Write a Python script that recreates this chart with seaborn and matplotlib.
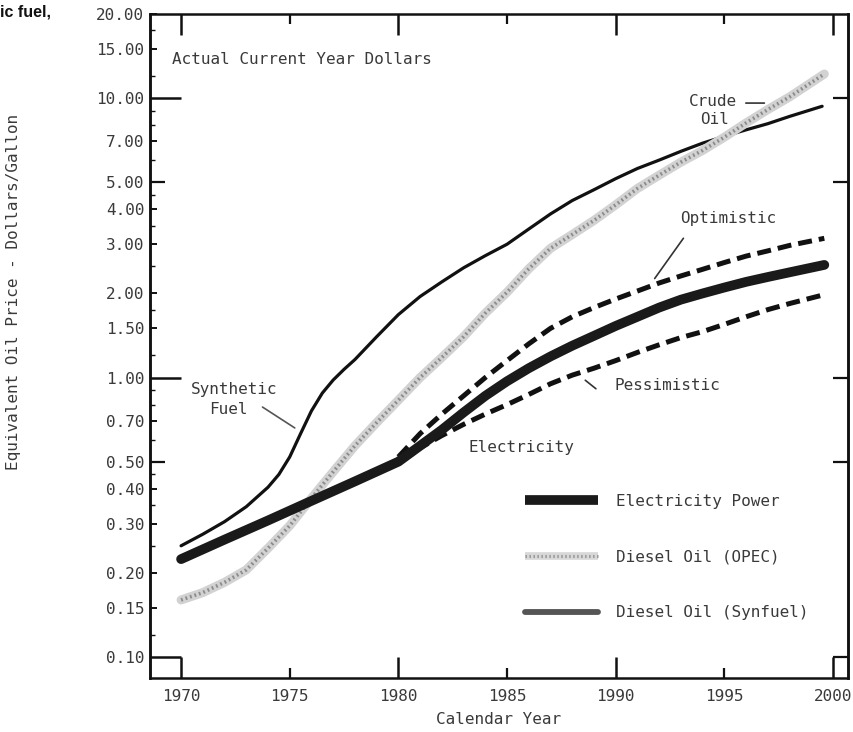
import numpy as np
import pandas as pd
import matplotlib
matplotlib.use("Agg")
import matplotlib.pyplot as plt
import seaborn as sns
from matplotlib.lines import Line2D
from matplotlib.legend_handler import HandlerTuple
from matplotlib.ticker import FixedLocator, FixedFormatter, NullFormatter

# ---------------- data ----------------
synfuel_years = [1970, 1971, 1972, 1973, 1974, 1974.5, 1975, 1975.5, 1976, 1976.5,
                 1977, 1977.5, 1978, 1979, 1980, 1981, 1982, 1983, 1984, 1985,
                 1986, 1987, 1988, 1989, 1990, 1991, 1992, 1993, 1994, 1995,
                 1996, 1997, 1998, 1999.5]
synfuel_price = [0.25, 0.275, 0.305, 0.345, 0.405, 0.45, 0.52, 0.63, 0.76, 0.88,
                 0.98, 1.07, 1.16, 1.40, 1.68, 1.95, 2.20, 2.47, 2.73, 3.00,
                 3.40, 3.85, 4.30, 4.70, 5.15, 5.60, 6.00, 6.45, 6.90, 7.30,
                 7.70, 8.10, 8.60, 9.35]

opec_years = [1970, 1971, 1972, 1973, 1974, 1975, 1976, 1977, 1978, 1979, 1980,
              1981, 1982, 1983, 1984, 1985, 1986, 1987, 1988, 1989, 1990, 1991,
              1992, 1993, 1994, 1995, 1996, 1997, 1998, 1999.6]
opec_price = [0.160, 0.170, 0.185, 0.205, 0.245, 0.295, 0.37, 0.46, 0.57, 0.69, 0.83,
              1.00, 1.18, 1.40, 1.70, 2.02, 2.45, 2.90, 3.25, 3.65, 4.15, 4.75,
              5.30, 5.90, 6.50, 7.25, 8.15, 9.10, 10.1, 12.2]

elec_years = [1970, 1972, 1974, 1976, 1978, 1980, 1981, 1982, 1983, 1984, 1985,
              1986, 1987, 1988, 1989, 1990, 1991, 1992, 1993, 1994, 1995, 1996,
              1997, 1998, 1999.6]
elec_price = [0.224, 0.263, 0.308, 0.362, 0.425, 0.50, 0.57, 0.65, 0.75, 0.86, 0.97,
              1.08, 1.19, 1.30, 1.41, 1.53, 1.65, 1.78, 1.90, 2.00, 2.10, 2.20,
              2.29, 2.38, 2.53]

opt_years = [1980, 1981, 1982, 1983, 1984, 1985, 1986, 1987, 1988, 1989, 1990,
             1991, 1992, 1993, 1994, 1995, 1996, 1997, 1998, 1999.6]
opt_price = [0.52, 0.63, 0.74, 0.86, 1.00, 1.15, 1.32, 1.50, 1.65, 1.78, 1.91,
             2.04, 2.18, 2.31, 2.44, 2.58, 2.72, 2.84, 2.97, 3.15]

pes_years = [1980, 1981, 1982, 1983, 1984, 1985, 1986, 1987, 1988, 1989, 1990,
             1991, 1992, 1993, 1994, 1995, 1996, 1997, 1998, 1999.6]
pes_price = [0.50, 0.56, 0.62, 0.68, 0.74, 0.80, 0.87, 0.95, 1.02, 1.08, 1.15,
             1.23, 1.31, 1.39, 1.46, 1.55, 1.65, 1.75, 1.84, 1.98]

ytick_values = [0.10, 0.15, 0.20, 0.30, 0.40, 0.50, 0.70, 1.00, 1.50, 2.00,
                3.00, 4.00, 5.00, 7.00, 10.00, 15.00, 20.00]
ytick_labels = [f"{v:.2f}" for v in ytick_values]
xtick_values = [1970, 1975, 1980, 1985, 1990, 1995, 2000]
xtick_labels = [str(v) for v in xtick_values]

legend_labels = ["Electricity Power", "Diesel Oil (OPEC)", "Diesel Oil (Synfuel)"]

# ---------------- style ----------------
sns.set_theme(style="white")
plt.rcParams['font.family'] = ['DejaVu Sans Mono', 'DejaVu Sans']
TXT = '#3a3a3a'
FS = 11.5
INK = '#111111'

fig = plt.figure(figsize=(8.54, 7.32), dpi=100)
ax = fig.add_axes([150/854, 54/732, 698/854, 664/732])
ax.set_yscale('log')

# ---------------- lines ----------------
sns.lineplot(x=synfuel_years, y=synfuel_price, ax=ax, color=INK, lw=2.3,
             estimator=None, sort=False)
sns.lineplot(x=opec_years, y=opec_price, ax=ax, color='#d2d2d2', lw=6.5,
             estimator=None, sort=False)
sns.lineplot(x=opec_years, y=opec_price, ax=ax, color='#8c8c8c', lw=2.6,
             estimator=None, sort=False, linestyle=(0, (0.5, 0.8)))
sns.lineplot(x=opt_years, y=opt_price, ax=ax, color=INK, lw=3.6,
             estimator=None, sort=False, linestyle=(0, (2.8, 1.4)))
sns.lineplot(x=pes_years, y=pes_price, ax=ax, color=INK, lw=3.6,
             estimator=None, sort=False, linestyle=(0, (2.8, 1.4)))
sns.lineplot(x=elec_years, y=elec_price, ax=ax, color='#1a1a1a', lw=7.0,
             estimator=None, sort=False)

# ---------------- axes ----------------
ax.set_xlim(1968.57, 2000.69)
ax.set_ylim(0.0841, 20.0)

ax.yaxis.set_major_locator(FixedLocator([0.1, 1.0, 10.0]))
ax.yaxis.set_major_formatter(FixedFormatter(["0.10", "1.00", "10.00"]))
minor_vals = [v for v in ytick_values if v not in (0.1, 1.0, 10.0)]
ax.yaxis.set_minor_locator(FixedLocator(minor_vals))
ax.yaxis.set_minor_formatter(FixedFormatter([f"{v:.2f}" for v in minor_vals]))

ax.xaxis.set_major_locator(FixedLocator([1970, 1980, 1990, 2000]))
ax.xaxis.set_major_formatter(FixedFormatter(["1970", "1980", "1990", "2000"]))
ax.xaxis.set_minor_locator(FixedLocator([1975, 1985, 1995]))
ax.xaxis.set_minor_formatter(FixedFormatter(["1975", "1985", "1995"]))

ax.tick_params(axis='y', which='major', direction='in', length=22, width=1.8,
               left=True, right=False, labelsize=FS, labelcolor=TXT, pad=4, color=INK)
ax.tick_params(axis='y', which='minor', direction='in', length=5, width=1.4,
               left=True, right=False, labelsize=FS, labelcolor=TXT, pad=4, color=INK)
ax.tick_params(axis='x', which='major', direction='in', length=15, width=1.8,
               bottom=True, top=True, labelsize=FS, labelcolor=TXT, pad=8, color=INK)
ax.tick_params(axis='x', which='minor', direction='in', length=7, width=1.6,
               bottom=True, top=True, labelsize=FS, labelcolor=TXT, pad=8, color=INK)

# extra unlabeled ticks on the left (mid-decade and fine graduations)
secl = ax.secondary_yaxis('left', functions=(lambda v: v, lambda v: v))
secl.yaxis.set_major_locator(FixedLocator([0.5, 5.0]))
secl.yaxis.set_minor_locator(FixedLocator([0.12, 0.25, 0.35, 0.45, 0.6, 0.8, 0.9,
                                           1.2, 1.75, 2.5, 3.5, 4.5, 6, 8, 9, 12, 17.5]))
secl.yaxis.set_major_formatter(NullFormatter())
secl.yaxis.set_minor_formatter(NullFormatter())
secl.tick_params(axis='y', which='major', direction='in', length=11, width=1.6, color=INK)
secl.tick_params(axis='y', which='minor', direction='in', length=3.5, width=1.0, color=INK)
secl.spines['left'].set_linewidth(1.8)
secl.spines['left'].set_color(INK)

sec = ax.secondary_yaxis('right', functions=(lambda v: v, lambda v: v))
sec.yaxis.set_major_locator(FixedLocator([0.1, 0.5, 1.0, 5.0, 10.0]))
sec.yaxis.set_minor_locator(FixedLocator([]))
sec.yaxis.set_major_formatter(NullFormatter())
sec.yaxis.set_minor_formatter(NullFormatter())
sec.tick_params(axis='y', which='major', direction='in', length=11, width=1.6, color=INK)
sec.spines['right'].set_linewidth(1.8)
sec.spines['right'].set_color(INK)

for s in ax.spines.values():
    s.set_linewidth(1.8)
    s.set_color(INK)
    s.set_visible(True)

ax.set_xlabel("Calendar Year", fontsize=FS, color=TXT, labelpad=6)
ax.set_ylabel("")
fig.text(14/854, 1 - 292/732, "Equivalent Oil Price - Dollars/Gallon", rotation=90,
         fontsize=FS, color=TXT, ha='center', va='center')
fig.text(0.0, 1 - 12/732, "ic fuel,", fontsize=11.5, fontweight='bold',
         family=['Liberation Sans', 'DejaVu Sans'], color=INK, ha='left', va='center')

# ---------------- annotations ----------------
ax.text(1969.59, 13.7, "Actual Current Year Dollars", fontsize=FS, color=TXT,
        ha='left', va='center')
ax.text(1994.48, 9.75, "Crude", fontsize=FS, color=TXT, ha='center', va='center')
ax.text(1994.55, 8.36, "Oil", fontsize=FS, color=TXT, ha='center', va='center')
ax.annotate("", xy=(1996.97, 9.6), xytext=(1995.86, 9.6),
            arrowprops=dict(arrowstyle='-', color='#333333', lw=1.2))
ax.text(1995.17, 3.70, "Optimistic", fontsize=FS, color=TXT, ha='center', va='center')
ax.annotate("", xy=(1991.72, 2.22), xytext=(1993.19, 3.21),
            arrowprops=dict(arrowstyle='-', color='#333333', lw=1.2))
ax.text(1992.37, 0.936, "Pessimistic", fontsize=FS, color=TXT, ha='center', va='center')
ax.annotate("", xy=(1988.5, 0.992), xytext=(1989.19, 0.899),
            arrowprops=dict(arrowstyle='-', color='#333333', lw=1.2))
ax.text(1985.65, 0.562, "Electricity", fontsize=FS, color=TXT, ha='center', va='center')
ax.text(1972.44, 0.906, "Synthetic", fontsize=FS, color=TXT, ha='center', va='center')
ax.text(1972.16, 0.769, "Fuel", fontsize=FS, color=TXT, ha='center', va='center')
ax.annotate("", xy=(1975.34, 0.652), xytext=(1973.64, 0.794),
            arrowprops=dict(arrowstyle='-', color='#555555', lw=1.2))

# ---------------- legend ----------------
h_elec = Line2D([], [], color='#1a1a1a', lw=7.0, solid_capstyle='butt')
h_opec = (Line2D([], [], color='#d8d8d8', lw=5.5, solid_capstyle='butt'),
          Line2D([], [], color='#9a9a9a', lw=2.2, linestyle=(0, (0.5, 0.8))))
h_syn = Line2D([], [], color='#555555', lw=4.2, solid_capstyle='round')
leg = ax.legend([h_elec, h_opec, h_syn], legend_labels,
                handler_map={tuple: HandlerTuple(ndivide=1, pad=0)},
                loc='upper left', bbox_to_anchor=((525 - 150) / 698, (678 - 494) / 664),
                frameon=False, borderpad=0, borderaxespad=0, handlelength=4.6,
                handletextpad=1.1, labelspacing=2.55, fontsize=FS)
for t in leg.get_texts():
    t.set_color(TXT)

fig.savefig("out.png", dpi=100)
